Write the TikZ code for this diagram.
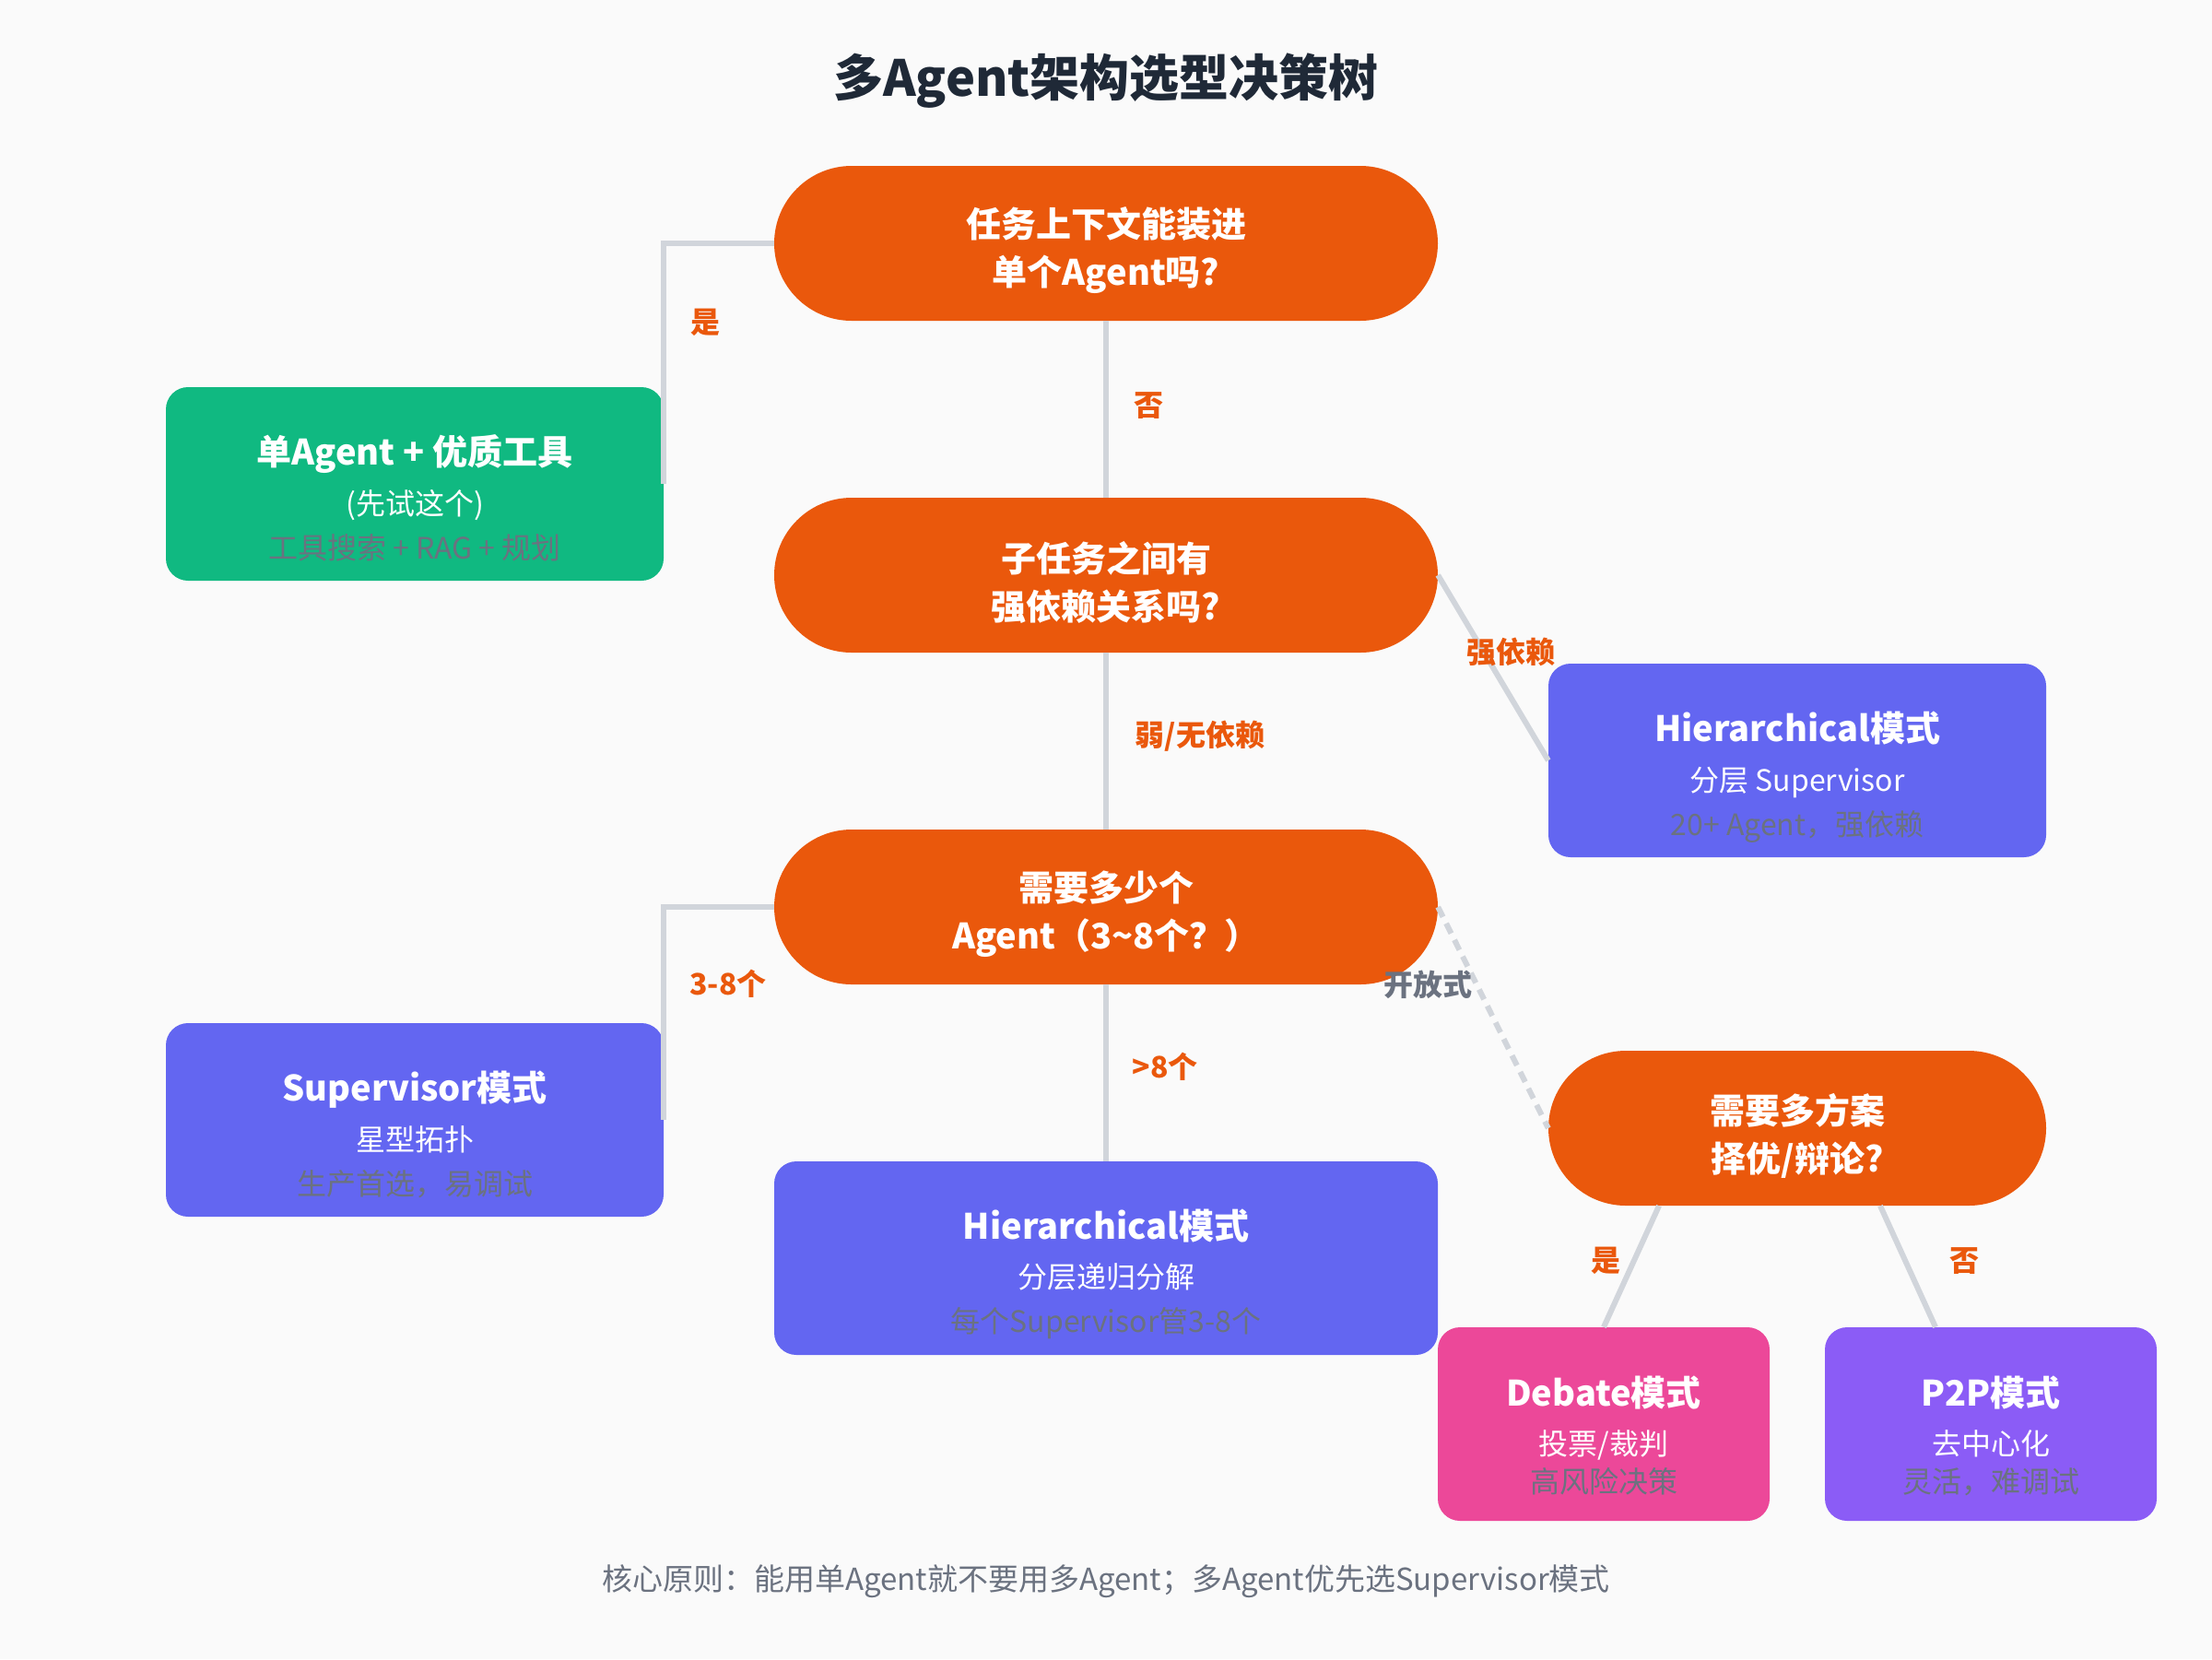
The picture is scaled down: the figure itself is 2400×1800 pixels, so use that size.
\documentclass[tikz,border=0pt]{standalone}
\usepackage{fontspec}
\setmainfont{Noto Sans CJK SC}
\definecolor{cOrange}{HTML}{EA580C}
\definecolor{cGreen}{HTML}{10B981}
\definecolor{cIndigo}{HTML}{6366F1}
\definecolor{cPink}{HTML}{EC4899}
\definecolor{cPurple}{HTML}{8B5CF6}
\definecolor{cLine}{HTML}{D1D5DB}
\definecolor{cGray}{HTML}{6B7280}
\definecolor{cTitle}{HTML}{1F2937}
\definecolor{cBg}{HTML}{FAFAFA}
\begin{document}
\begin{tikzpicture}[x=1pt,y=-1pt,
  stad/.style={rectangle, rounded corners=84pt, minimum width=720pt, minimum height=168pt,
    fill=cOrange, inner sep=0pt},
  stadtext/.style={text=white, font=\bfseries\fontsize{38}{52}\selectfont, align=center, inner sep=0pt},
  box/.style={rectangle, rounded corners=24pt, minimum width=540pt, minimum height=210pt, inner sep=0pt},
  boxtitle/.style={text=white, font=\bfseries\fontsize{38}{38}\selectfont, text height=33pt, text depth=5pt, inner sep=0pt},
  boxsub/.style={text=white, font=\fontsize{32}{32}\selectfont, text height=28pt, text depth=4pt, inner sep=0pt},
  boxnote/.style={text=cGray, font=\fontsize{32}{32}\selectfont, text height=28pt, text depth=4pt, inner sep=0pt},
  lab/.style={text=cOrange, font=\bfseries\fontsize{32}{32}\selectfont, text height=28pt, text depth=4pt, inner sep=0pt},
  conn/.style={draw=cLine, line width=6pt},
]
\useasboundingbox (0,0) rectangle (2400,1800);
\fill[cBg] (0,0) rectangle (2400,1800);

% title
\node[text=cTitle, font=\bfseries\fontsize{54}{54}\selectfont, text height=47pt, text depth=7pt, inner sep=0pt] (title) at (1200,84) {多Agent架构选型决策树};

% decision nodes
\node[stad] (q1) at (1200,264) {};
\node[stadtext] (q1t) at ([yshift=-8pt]q1.center) {任务上下文能装进\\单个Agent吗?};
\node[stad] (q2) at (1200,624) {};
\node[stadtext] (q2t) at ([yshift=-8pt]q2.center) {子任务之间有\\强依赖关系吗?};
\node[stad] (q3) at (1200,984) {};
\node[stadtext] (q3t) at ([yshift=-8pt]q3.center) {需要多少个\\Agent（3{\char"7E}8个？）};
\node[stad, minimum width=540pt] (q4) at (1950,1224) {};
\node[stadtext] (q4t) at ([yshift=-8pt]q4.center) {需要多方案\\择优/辩论?};

% result boxes
\node[box, fill=cGreen] (single) at (450,525) {};
\node[boxtitle] (singleT) at ([yshift=35pt]single.center) {单Agent + 优质工具};
\node[boxsub] (singleS) at ([yshift=-21pt]single.center) {(先试这个)};
\node[boxnote] (singleN) at ([yshift=-69pt]single.center) {工具搜索 + RAG + 规划};

\node[box, fill=cIndigo] (hr) at (1950,825) {};
\node[boxtitle] (hrT) at ([yshift=35pt]hr.center) {Hierarchical模式};
\node[boxsub] (hrS) at ([yshift=-21pt]hr.center) {分层 Supervisor};
\node[boxnote] (hrN) at ([yshift=-69pt]hr.center) {20+ Agent，强依赖};

\node[box, fill=cIndigo] (sup) at (450,1215) {};
\node[boxtitle] (supT) at ([yshift=35pt]sup.center) {Supervisor模式};
\node[boxsub] (supS) at ([yshift=-21pt]sup.center) {星型拓扑};
\node[boxnote] (supN) at ([yshift=-69pt]sup.center) {生产首选，易调试};

\node[box, fill=cIndigo, minimum width=720pt] (hb) at (1200,1365) {};
\node[boxtitle] (hbT) at ([yshift=35pt]hb.center) {Hierarchical模式};
\node[boxsub] (hbS) at ([yshift=-20pt]hb.center) {分层递归分解};
\node[boxnote] (hbN) at ([yshift=-68pt]hb.center) {每个Supervisor管3-8个};

\node[box, fill=cPink, minimum width=360pt] (deb) at (1740,1545) {};
\node[boxtitle] (debT) at ([yshift=34pt]deb.center) {Debate模式};
\node[boxsub] (debS) at ([yshift=-21pt]deb.center) {投票/裁判};
\node[boxnote] (debN) at ([yshift=-62pt]deb.center) {高风险决策};

\node[box, fill=cPurple, minimum width=360pt] (p2p) at (2160,1545) {};
\node[boxtitle] (p2pT) at ([yshift=34pt]p2p.center) {P2P模式};
\node[boxsub] (p2pS) at ([yshift=-21pt]p2p.center) {去中心化};
\node[boxnote] (p2pN) at ([yshift=-62pt]p2p.center) {灵活，难调试};

% connectors
\draw[conn] (q1.west) -| (single.east);
\draw[conn] (q1.south) -- (q2.north);
\draw[conn] (q2.east) -- (hr.west);
\draw[conn] (q2.south) -- (q3.north);
\draw[conn] (q3.west) -| (sup.east);
\draw[conn] (q3.south) -- (hb.north);
\draw[conn, dash pattern=on 12pt off 8pt] (q3.east) -- (q4.west);
\draw[conn] ([xshift=-150pt]q4.south) -- (deb.north);
\draw[conn] ([xshift=90pt]q4.south) -- ([xshift=-60pt]p2p.north);

% edge labels
\node[lab] (l1) at (765,349) {是};
\node[lab] (l2) at (1246,439) {否};
\node[lab] (l3) at (1639,707) {强依赖};
\node[lab] (l4) at (1302,797) {弱/无依赖};
\node[lab] (l5) at (790,1067) {3-8个};
\node[lab] (l6) at (1264,1157) {>8个};
\node[lab, text=cGray] (l7) at (1549,1068) {开放式};
\node[lab] (l8) at (1742,1367) {是};
\node[lab] (l9) at (2131,1367) {否};

% footer
\node[text=cGray, font=\fontsize{33}{33}\selectfont, text height=28pt, text depth=4pt, inner sep=0pt] (foot) at (1200,1713) {核心原则：能用单Agent就不要用多Agent；多Agent优先选Supervisor模式};
\end{tikzpicture}
\end{document}
